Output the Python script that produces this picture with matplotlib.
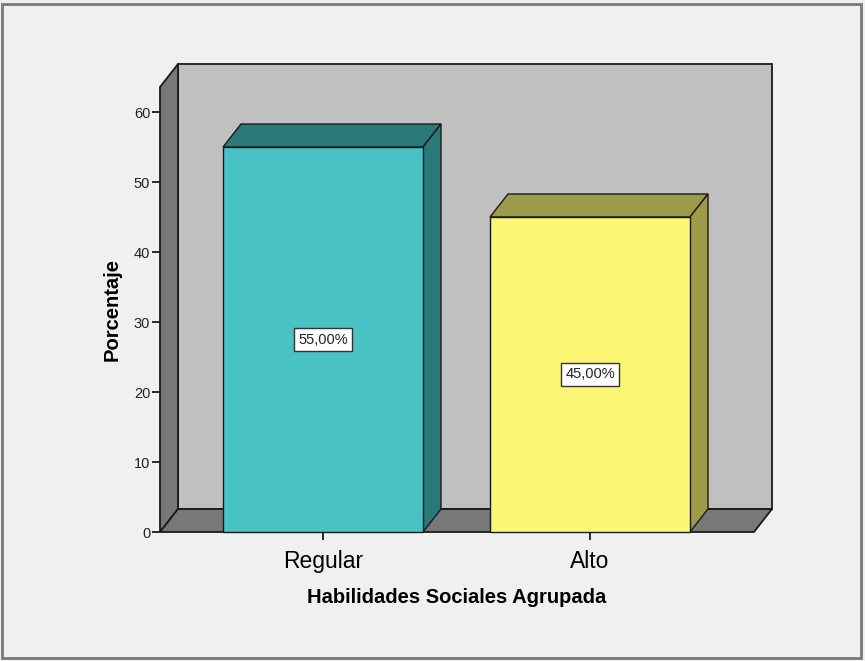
import matplotlib
matplotlib.use("Agg")
import matplotlib.pyplot as plt
from matplotlib.patches import Polygon, Rectangle

plt.rcParams['font.family'] = ['Liberation Sans', 'DejaVu Sans']

categories = ["Regular", "Alto"]
values = [55.0, 45.0]
labels = ["55,00%", "45,00%"]
front_colors = ["#48c2c5", "#fbf774"]
side_colors = ["#2b7979", "#9d9a49"]

W, H = 865, 661
fig = plt.figure(figsize=(W / 100, H / 100), dpi=100, facecolor="#f0f0f0")

# outer frame
fig.patches.append(Rectangle((2 / W, 3 / H), (861 - 2) / W, (657 - 3) / H,
                             transform=fig.transFigure, fill=False,
                             edgecolor="#7a7a7a", linewidth=2))

# axes: front plane x from px 160 to 772, y from px 532 (0) to 64
px_per_unit = 420 / 60.0
ymax = (532 - 64) / px_per_unit
ax = fig.add_axes([160 / W, (H - 532) / H, (772 - 160) / W, (532 - 64) / H])
ax.set_facecolor("none")

step = 267.0  # px between categories
x0 = -163 / step
x1 = 1 + 164 / step
DX = 18 / step
DY = 23 / px_per_unit
bw = 200 / step
ax.set_xlim(x0, x1 + DX)
ax.set_ylim(0, ymax)

ec = "#1a1a1a"
lw = 1.3
# back wall
ax.add_patch(Polygon([(x0 + DX, DY), (x1 + DX, DY), (x1 + DX, ymax), (x0 + DX, ymax)],
                     facecolor="#c0c0c0", edgecolor=ec, linewidth=lw, clip_on=False))
# left wall
ax.add_patch(Polygon([(x0, 0), (x0 + DX, DY), (x0 + DX, ymax), (x0, ymax - DY)],
                     facecolor="#787878", edgecolor=ec, linewidth=lw, clip_on=False))
# floor
ax.add_patch(Polygon([(x0, 0), (x1, 0), (x1 + DX, DY), (x0 + DX, DY)],
                     facecolor="#787878", edgecolor=ec, linewidth=lw, clip_on=False))

for i, v in enumerate(values):
    l, r = i - bw / 2, i + bw / 2
    ax.add_patch(Polygon([(l, v), (l + DX, v + DY), (r + DX, v + DY), (r, v)],
                         facecolor=side_colors[i], edgecolor=ec, linewidth=1, clip_on=False))
    ax.add_patch(Polygon([(r, 0), (r + DX, DY), (r + DX, v + DY), (r, v)],
                         facecolor=side_colors[i], edgecolor=ec, linewidth=1, clip_on=False))
    ax.add_patch(Rectangle((l, 0), bw, v, facecolor=front_colors[i],
                           edgecolor=ec, linewidth=1, clip_on=False))
    ax.text(i, v / 2, labels[i], ha="center", va="center", fontsize=10.5, color="#222222",
            bbox=dict(boxstyle="square,pad=0.3", facecolor="white", edgecolor="#333333",
                      linewidth=1))

for s in ax.spines.values():
    s.set_visible(False)

ax.set_yticks(range(0, 61, 10))
ax.set_xticks(range(len(categories)))
ax.set_xticklabels(categories, fontsize=16.5, color="#000000")
ax.tick_params(axis="y", direction="out", length=6, width=1.3, color=ec,
               labelsize=10.5, labelcolor="#222222", pad=1)
ax.tick_params(axis="x", direction="out", length=6, width=1.3, color=ec, pad=7)
ax.set_xlabel("Habilidades Sociales Agrupada", fontsize=14.5, fontweight="bold")
ax.set_ylabel("Porcentaje", fontsize=14.5, fontweight="bold")
# centre the titles on the front plane, as in the original
ax.xaxis.set_label_coords((x0 + x1) / 2, -56 / (532 - 64), transform=ax.get_xaxis_transform())
ax.yaxis.set_label_coords(-38 / (772 - 160), (ymax - DY) / 2, transform=ax.get_yaxis_transform())

fig.savefig("out.png", dpi=100, facecolor=fig.get_facecolor())
